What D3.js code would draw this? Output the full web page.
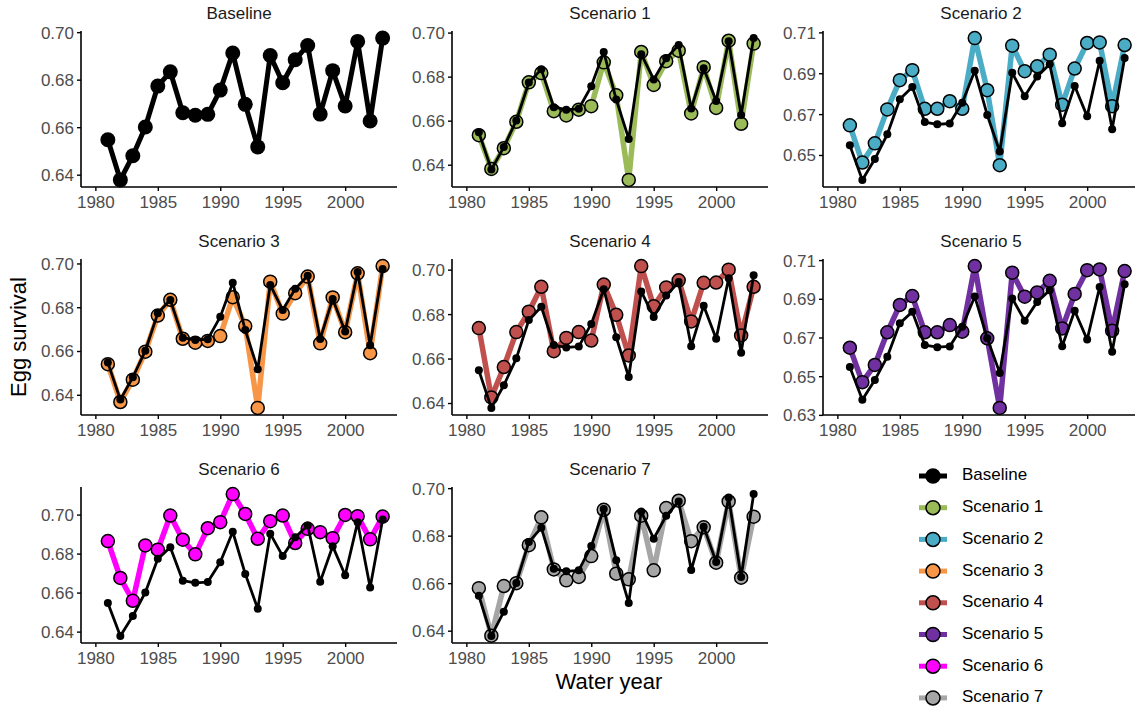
<!DOCTYPE html>
<html>
<head>
<meta charset="utf-8">
<script src="https://cdnjs.cloudflare.com/ajax/libs/d3/7.8.5/d3.min.js"></script>
<style>
  html, body { margin: 0; padding: 0; background: #fff; }
  svg { display: block; font-family: "Liberation Sans", Arial, sans-serif; }
</style>
</head>
<body>
<svg id="chart" width="1135" height="711"></svg>
<script>
const years = [1981,1982,1983,1984,1985,1986,1987,1988,1989,1990,1991,1992,1993,1994,1995,1996,1997,1998,1999,2000,2001,2002,2003];

const baseline  = [0.6547,0.6378,0.6480,0.6601,0.6773,0.6833,0.6661,0.6650,0.6654,0.6756,0.6912,0.6696,0.6517,0.6902,0.6787,0.6884,0.6944,0.6655,0.6838,0.6689,0.6961,0.6626,0.6975];
const scenario1 = [0.6534,0.6381,0.6475,0.6595,0.6774,0.6816,0.6643,0.6624,0.6650,0.6666,0.6865,0.6715,0.6331,0.6912,0.6762,0.6870,0.6918,0.6633,0.6843,0.6658,0.6963,0.6586,0.6950];
const scenario2 = [0.6645,0.6463,0.6557,0.6723,0.6866,0.6915,0.6726,0.6726,0.6763,0.6726,0.7072,0.6817,0.6450,0.7035,0.6910,0.6934,0.6991,0.6746,0.6923,0.7048,0.7051,0.6739,0.7038];
const scenario3 = [0.6540,0.6367,0.6469,0.6597,0.6762,0.6834,0.6656,0.6638,0.6646,0.6668,0.6846,0.6714,0.6340,0.6917,0.6771,0.6864,0.6940,0.6635,0.6845,0.6686,0.6955,0.6590,0.6988];
const scenario4 = [0.6737,0.6425,0.6562,0.6719,0.6811,0.6923,0.6633,0.6693,0.6719,0.6681,0.6933,0.6797,0.6614,0.7016,0.6835,0.6920,0.6952,0.6767,0.6941,0.6942,0.7000,0.6704,0.6923];
const scenario5 = [0.6647,0.6469,0.6558,0.6727,0.6868,0.6914,0.6727,0.6727,0.6764,0.6730,0.7069,0.6696,0.6336,0.7035,0.6911,0.6933,0.6993,0.6747,0.6925,0.7048,0.7052,0.6735,0.7043];
const scenario6 = [0.6864,0.6675,0.6558,0.6842,0.6820,0.6995,0.6871,0.6796,0.6930,0.6961,0.7105,0.7003,0.6876,0.6966,0.6995,0.6854,0.6927,0.6910,0.6879,0.6998,0.6992,0.6873,0.6990];
const scenario7 = [0.6579,0.6379,0.6588,0.6600,0.6760,0.6877,0.6658,0.6612,0.6626,0.6714,0.6909,0.6640,0.6616,0.6884,0.6654,0.6916,0.6947,0.6777,0.6835,0.6686,0.6944,0.6623,0.6880];

const seriesNames  = ["Baseline","Scenario 1","Scenario 2","Scenario 3","Scenario 4","Scenario 5","Scenario 6","Scenario 7"];
const seriesValues = [baseline, scenario1, scenario2, scenario3, scenario4, scenario5, scenario6, scenario7];
const seriesColors = ["#000000","#9BBB59","#4BACC6","#F79646","#C0504D","#7030A0","#FF00FF","#A6A6A6"];

const xTicks = [1980,1985,1990,1995,2000];
const xDomain = [1980, 2003];
const yTicksPerPanel = [
  [0.64,0.66,0.68,0.70],
  [0.64,0.66,0.68,0.70],
  [0.65,0.67,0.69,0.71],
  [0.64,0.66,0.68,0.70],
  [0.64,0.66,0.68,0.70],
  [0.63,0.65,0.67,0.69,0.71],
  [0.64,0.66,0.68,0.70],
  [0.64,0.66,0.68,0.70]
];

const svg = d3.select("#chart");

// layout
const colLeft = [81, 452, 823];
const rowTop = [31, 259, 487];
const pw = 316, ph = 156;

function expand(ext, f) {
  const r = ext[1] - ext[0];
  return [ext[0] - r*f, ext[1] + r*f];
}

const xDom = expand(xDomain, 0.05);

seriesNames.forEach((name, i) => {
  const col = i % 3, row = Math.floor(i / 3);
  const g = svg.append("g").attr("transform", `translate(${colLeft[col]},${rowTop[row]})`);
  const vals = seriesValues[i];
  const allVals = i === 0 ? baseline : baseline.concat(vals);
  const yDom = expand(d3.extent(allVals), 0.05);

  const x = d3.scaleLinear().domain(xDom).range([0, pw]);
  const y = d3.scaleLinear().domain(yDom).range([ph, 0]);

  // title
  g.append("text")
    .attr("x", pw/2).attr("y", -16)
    .attr("text-anchor", "middle").attr("dominant-baseline", "middle")
    .attr("font-size", 17).attr("fill", "#1A1A1A")
    .text(name);

  const line = d3.line().x((d, k) => x(years[k])).y(d => y(d));

  if (i === 0) {
    g.append("path").datum(baseline)
      .attr("d", line).attr("fill", "none")
      .attr("stroke", "#000").attr("stroke-width", 5).attr("stroke-linejoin", "round");
    g.selectAll("circle.b").data(baseline).enter().append("circle")
      .attr("cx", (d, k) => x(years[k])).attr("cy", d => y(d))
      .attr("r", 7.5).attr("fill", "#000");
  } else {
    g.append("path").datum(vals)
      .attr("d", line).attr("fill", "none")
      .attr("stroke", seriesColors[i]).attr("stroke-width", 5.5).attr("stroke-linejoin", "round");
    g.selectAll("circle.s").data(vals).enter().append("circle")
      .attr("cx", (d, k) => x(years[k])).attr("cy", d => y(d))
      .attr("r", 6.5).attr("fill", seriesColors[i])
      .attr("stroke", "#000").attr("stroke-width", 1.5);
    g.append("path").datum(baseline)
      .attr("d", line).attr("fill", "none")
      .attr("stroke", "#000").attr("stroke-width", 2.8).attr("stroke-linejoin", "round");
    g.selectAll("circle.b").data(baseline).enter().append("circle")
      .attr("cx", (d, k) => x(years[k])).attr("cy", d => y(d))
      .attr("r", 4).attr("fill", "#000");
  }

  // axes
  const xa = g.append("g").attr("transform", `translate(0,${ph})`)
    .call(d3.axisBottom(x).tickValues(xTicks).tickFormat(d3.format("d")).tickSize(4).tickPadding(3));
  const ya = g.append("g")
    .call(d3.axisLeft(y).tickValues(yTicksPerPanel[i]).tickFormat(d3.format(".2f")).tickSize(4).tickPadding(3));
  [xa, ya].forEach(a => {
    a.select(".domain").attr("stroke", "#000").attr("stroke-width", 1.6)
      .attr("d", a === xa ? `M0,0H${pw}` : `M0,0V${ph}`);
    a.selectAll(".tick line").attr("stroke", "#000").attr("stroke-width", 1.4);
    a.selectAll(".tick text").attr("fill", "#4D4D4D").attr("font-size", 17)
      .attr("font-family", "Liberation Sans, Arial, sans-serif");
  });
  xa.selectAll(".tick text").attr("dy", "0.85em");
  ya.selectAll(".tick text").attr("dy", "0.35em");
});

// axis titles
svg.append("text")
  .attr("transform", "translate(20,337) rotate(-90)")
  .attr("text-anchor", "middle").attr("dominant-baseline", "middle")
  .attr("font-size", 22).attr("fill", "#000")
  .text("Egg survival");
svg.append("text")
  .attr("x", 609).attr("y", 683)
  .attr("text-anchor", "middle").attr("dominant-baseline", "middle")
  .attr("font-size", 22).attr("fill", "#000")
  .text("Water year");

// legend
const lg = svg.append("g").attr("transform", "translate(919,476)");
seriesNames.forEach((name, i) => {
  const row = lg.append("g").attr("transform", `translate(0,${i*31.7})`);
  row.append("line").attr("x1", 0).attr("x2", 28).attr("y1", 0).attr("y2", 0)
    .attr("stroke", seriesColors[i]).attr("stroke-width", 5);
  row.append("circle").attr("cx", 14).attr("cy", 0).attr("r", 7)
    .attr("fill", seriesColors[i]).attr("stroke", "#000").attr("stroke-width", 1.5);
  row.append("text").attr("x", 43).attr("y", 0)
    .attr("dominant-baseline", "middle").attr("font-size", 17).attr("fill", "#000")
    .text(name);
});
</script>
</body>
</html>
